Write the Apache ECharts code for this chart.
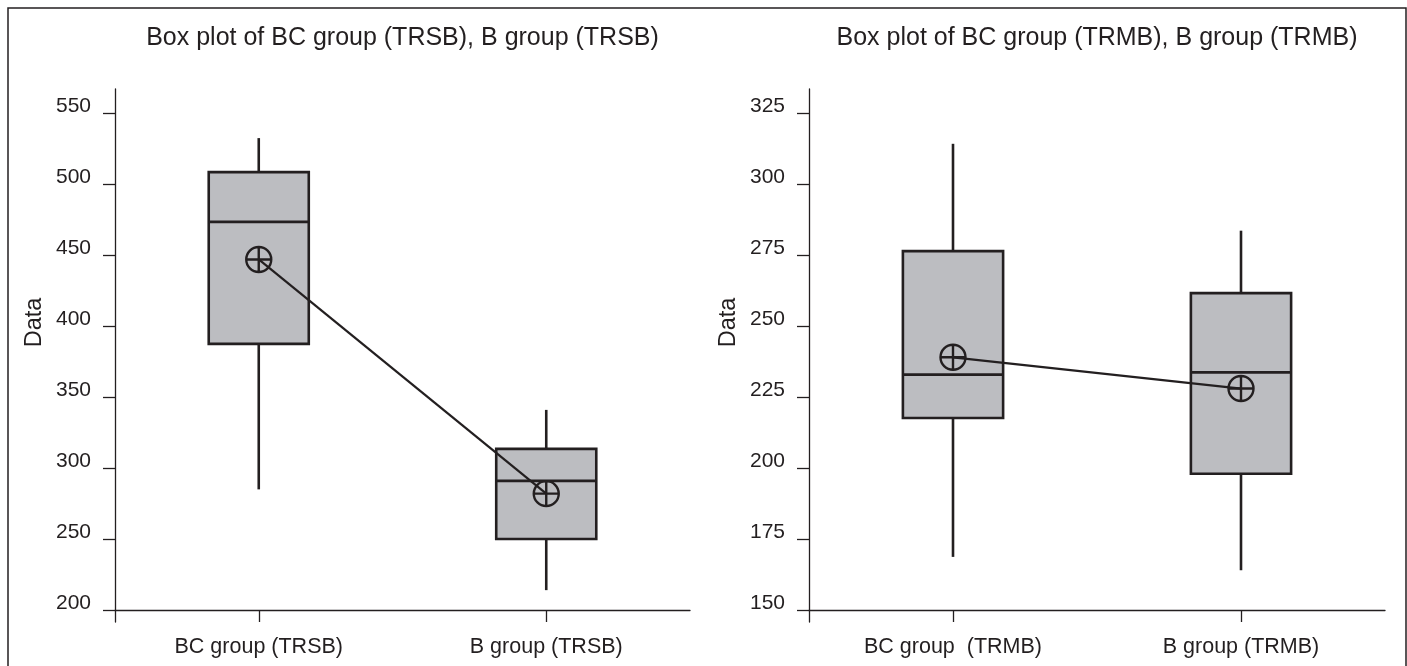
<!DOCTYPE html>
<html>
<head>
<meta charset="utf-8">
<script src="https://cdn.jsdelivr.net/npm/echarts@6/dist/echarts.min.js"></script>
<style>
html,body{margin:0;padding:0;background:#fff;}
#c{width:1407px;height:666px;}
</style>
</head>
<body>
<div id="c"></div>
<script>
// ---- data ----
const titleLeft = 'Box plot of BC group (TRSB), B group (TRSB)';
const titleRight = 'Box plot of BC group (TRMB), B group (TRMB)';
const categoriesLeft = ['BC group (TRSB)', 'B group (TRSB)'];
const categoriesRight = ['BC group  (TRMB)', 'B group (TRMB)'];
// [min, Q1, median, Q3, max]
const boxLeft = [
  [285, 387.5, 473.5, 508.5, 532.5],
  [214, 250, 291, 313.5, 341]
];
const meanLeft = [447, 282];
const boxRight = [
  [168.7, 217.6, 232.9, 276.4, 314.2],
  [164, 198, 233.7, 261.6, 283.6]
];
const meanRight = [239, 228];
const ticksLeft = [200, 250, 300, 350, 400, 450, 500, 550];
const ticksRight = [150, 175, 200, 225, 250, 275, 300, 325];
const yRangeLeft = [191.55, 567.1];
const yRangeRight = [145.77, 333.5];

// ---- style ----
const INK = '#231f20';
const BOXFILL = '#bcbdc1';
const FONT = '"Liberation Sans", Arial, Helvetica, sans-serif';
const meanSymbol = 'path://M0,12 A12,12 0 1,1 24,12 A12,12 0 1,1 0,12 Z M12,0 L12,24 M0,12 L24,12';

const chart = echarts.init(document.getElementById('c'), null, {renderer: 'canvas'});

function boxRender(params, api) {
  const idx = api.value(0);
  const mn = api.coord([idx, api.value(1)]);
  const q1 = api.coord([idx, api.value(2)]);
  const md = api.coord([idx, api.value(3)]);
  const q3 = api.coord([idx, api.value(4)]);
  const mx = api.coord([idx, api.value(5)]);
  const band = api.size([1, 0])[0];
  const hw = band * 0.174;
  const x = mn[0];
  const ls = {stroke: INK, lineWidth: 2.6};
  return {
    type: 'group',
    children: [
      {type: 'line', shape: {x1: x, y1: mx[1], x2: x, y2: q3[1]}, style: ls},
      {type: 'line', shape: {x1: x, y1: q1[1], x2: x, y2: mn[1]}, style: ls},
      {type: 'rect', shape: {x: x - hw, y: q3[1], width: hw * 2, height: q1[1] - q3[1]},
        style: {fill: BOXFILL, stroke: INK, lineWidth: 2.6}},
      {type: 'line', shape: {x1: x - hw, y1: md[1], x2: x + hw, y2: md[1]}, style: ls}
    ]
  };
}

function yAxisCfg(range, ticks, gi) {
  return {
    type: 'value', gridIndex: gi, min: range[0], max: range[1],
    name: 'Data', nameLocation: 'middle', nameGap: 68,
    nameTextStyle: {color: INK, fontSize: 23.5, fontFamily: FONT, padding: [0, 0, 0, 66]},
    axisLine: {show: true, lineStyle: {color: INK, width: 1.3}},
    axisTick: {show: true, length: 12, inside: false, customValues: ticks, lineStyle: {color: INK, width: 1.3}},
    axisLabel: {show: true, customValues: ticks, margin: 24, color: INK, fontSize: 21, fontFamily: FONT,
      verticalAlign: 'bottom', lineHeight: 14},
    splitLine: {show: false}
  };
}
function xAxisCfg(cats, gi) {
  return {
    type: 'category', gridIndex: gi, data: cats, offset: -12, position: 'bottom',
    boundaryGap: true,
    axisLine: {show: true, lineStyle: {color: INK, width: 1.3}},
    axisTick: {show: true, alignWithLabel: true, length: 12, lineStyle: {color: INK, width: 1.3}},
    axisLabel: {show: true, margin: 26, color: INK, fontSize: 21.5, fontFamily: FONT, interval: 0},
    splitLine: {show: false}
  };
}

const option = {
  backgroundColor: '#ffffff',
  animation: false,
  textStyle: {fontFamily: FONT},
  title: [
    {text: titleLeft, left: 402.5, top: 26, textAlign: 'center', padding: 0,
      textStyle: {color: INK, fontSize: 25, fontWeight: 'normal', fontFamily: FONT}},
    {text: titleRight, left: 1097, top: 26, textAlign: 'center', padding: 0,
      textStyle: {color: INK, fontSize: 25, fontWeight: 'normal', fontFamily: FONT}}
  ],
  grid: [
    {left: 115, top: 89, width: 575, height: 533, containLabel: false},
    {left: 809, top: 89, width: 576, height: 533, containLabel: false}
  ],
  xAxis: [xAxisCfg(categoriesLeft, 0), xAxisCfg(categoriesRight, 1)],
  yAxis: [yAxisCfg(yRangeLeft, ticksLeft, 0), yAxisCfg(yRangeRight, ticksRight, 1)],
  graphic: [
    {type: 'rect', shape: {x: 8, y: 8, width: 1398, height: 700},
      style: {fill: 'none', stroke: INK, lineWidth: 1.5}, silent: true, z: -1}
  ],
  series: [
    {type: 'custom', xAxisIndex: 0, yAxisIndex: 0, renderItem: boxRender,
      data: boxLeft.map((b, i) => [i].concat(b)), z: 2},
    {type: 'custom', xAxisIndex: 1, yAxisIndex: 1, renderItem: boxRender,
      data: boxRight.map((b, i) => [i].concat(b)), z: 2},
    {type: 'line', xAxisIndex: 0, yAxisIndex: 0, data: meanLeft, z: 5,
      symbol: meanSymbol, symbolSize: 25, showSymbol: true,
      lineStyle: {color: INK, width: 2.2},
      itemStyle: {color: 'rgba(0,0,0,0)', borderColor: INK, borderWidth: 2.4}},
    {type: 'line', xAxisIndex: 1, yAxisIndex: 1, data: meanRight, z: 5,
      symbol: meanSymbol, symbolSize: 25, showSymbol: true,
      lineStyle: {color: INK, width: 2.2},
      itemStyle: {color: 'rgba(0,0,0,0)', borderColor: INK, borderWidth: 2.4}}
  ]
};
chart.setOption(option);
</script>
</body>
</html>
